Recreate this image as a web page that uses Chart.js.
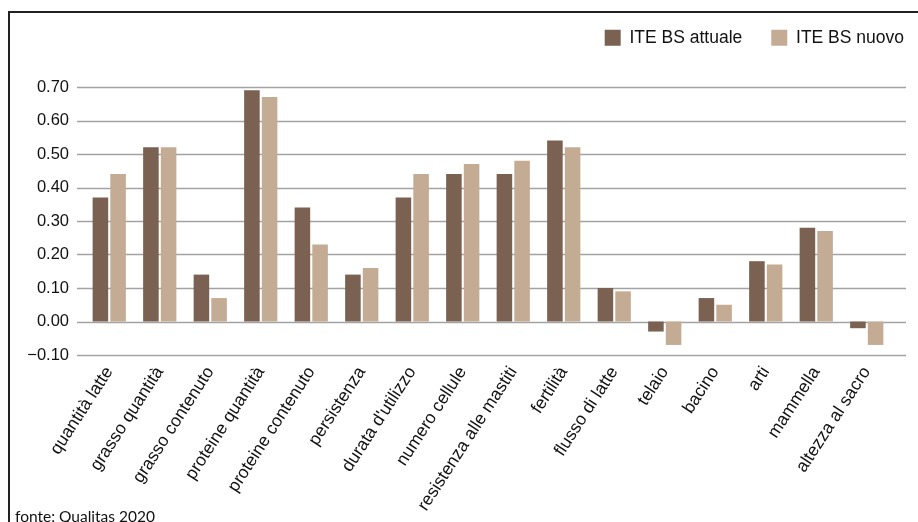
<!DOCTYPE html>
<html>
<head>
<meta charset="utf-8">
<script src="https://cdn.jsdelivr.net/npm/chart.js@4"></script>
<style>
  html, body { margin: 0; padding: 0; background: #fff; overflow: hidden; }
  #wrap { position: relative; width: 918px; height: 522px; }
  #frame { position: absolute; left: 8px; top: 11px; right: -4px; bottom: -4px;
           border-left: 2px solid #222; border-top: 2px solid #222; pointer-events: none; }
  #source { position: absolute; left: 15px; top: 507px; font-family: Lato, "Open Sans", sans-serif;
            font-size: 15.5px; color: #111; white-space: nowrap; }
  canvas { position: absolute; left: 0; top: 0; }
</style>
</head>
<body>
<div id="wrap">
  <canvas id="chart" width="918" height="522"></canvas>
  <div id="frame"></div>
  <div id="source">fonte: Qualitas 2020</div>
</div>
<script>
// chart data
const traits = ['quantità latte', 'grasso quantità', 'grasso contenuto', 'proteine quantità',
  'proteine contenuto', 'persistenza', "durata d'utilizzo", 'numero cellule',
  'resistenza alle mastiti', 'fertilità', 'flusso di latte', 'telaio', 'bacino',
  'arti', 'mammella', 'altezza al sacro'];
const iteAttuale = [0.37, 0.52, 0.14, 0.69, 0.34, 0.14, 0.37, 0.44, 0.44, 0.54, 0.10, -0.03, 0.07, 0.18, 0.28, -0.02];
const iteNuovo = [0.44, 0.52, 0.07, 0.67, 0.23, 0.16, 0.44, 0.47, 0.48, 0.52, 0.09, -0.07, 0.05, 0.17, 0.27, -0.07];
const yTicks = [-0.10, 0.00, 0.10, 0.20, 0.30, 0.40, 0.50, 0.60, 0.70];

const darkBrown = '#7a6151';
const lightBrown = '#c4ab93';
const FONT = '"Liberation Sans", Arial, Helvetica, sans-serif';

// horizontal grid lines run a bit wider than the category band
const wideGrid = {
  id: 'wideGrid',
  beforeDatasetsDraw(chart) {
    const y = chart.scales.y;
    const ctx = chart.ctx;
    ctx.save();
    ctx.strokeStyle = '#a3a3a3';
    ctx.lineWidth = 1.6;
    yTicks.forEach(v => {
      const py = Math.round(y.getPixelForValue(v)) + 0.5;
      ctx.beginPath();
      ctx.moveTo(77, py);
      ctx.lineTo(906, py);
      ctx.stroke();
    });
    ctx.restore();
  }
};

// legend: taller box to push the plot down, and pushed out to the right edge
const legendTweak = {
  id: 'legendTweak',
  beforeUpdate(chart) {
    const legend = chart.legend;
    if (legend && !legend._patched) {
      const fit = legend.fit;
      legend.fit = function () {
        fit.call(this);
        this.height = 87;
      };
      legend._patched = true;
    }
  },
  afterLayout(chart) {
    chart.legend.left += 41;
    chart.legend.right += 41;
  }
};

const ctx = document.getElementById('chart').getContext('2d');
new Chart(ctx, {
  type: 'bar',
  data: {
    labels: traits,
    datasets: [
      { label: 'ITE BS attuale', data: iteAttuale, backgroundColor: darkBrown },
      { label: 'ITE BS nuovo', data: iteNuovo, backgroundColor: lightBrown }
    ]
  },
  options: {
    responsive: false,
    animation: false,
    layout: { padding: { left: 0, right: 26, top: 0, bottom: 0 } },
    datasets: { bar: { categoryPercentage: 0.70, barPercentage: 0.88 } },
    scales: {
      x: {
        grid: { display: false },
        border: { display: false },
        ticks: {
          color: '#111',
          font: { family: FONT, size: 17.5 },
          minRotation: 57,
          maxRotation: 57,
          autoSkip: false,
          padding: 0
        },
        afterFit(scale) { scale.height = 522 - 355; }
      },
      y: {
        min: -0.1,
        max: 0.7,
        grid: { display: false, drawTicks: false },
        border: { display: false },
        afterBuildTicks(scale) { scale.ticks = yTicks.map(v => ({ value: v })); },
        ticks: {
          color: '#111',
          font: { family: FONT, size: 16.5 },
          padding: 15,
          callback: v => (v < 0 ? '\u2212' : '') + Math.abs(v).toFixed(2)
        },
        afterFit(scale) { scale.width = 84; }
      }
    },
    plugins: {
      legend: {
        position: 'top',
        align: 'end',
        labels: {
          color: '#111',
          font: { family: FONT, size: 17.5 },
          boxWidth: 16,
          boxHeight: 16,
          padding: 29
        }
      },
      tooltip: { enabled: false }
    }
  },
  plugins: [wideGrid, legendTweak]
});
</script>
</body>
</html>
